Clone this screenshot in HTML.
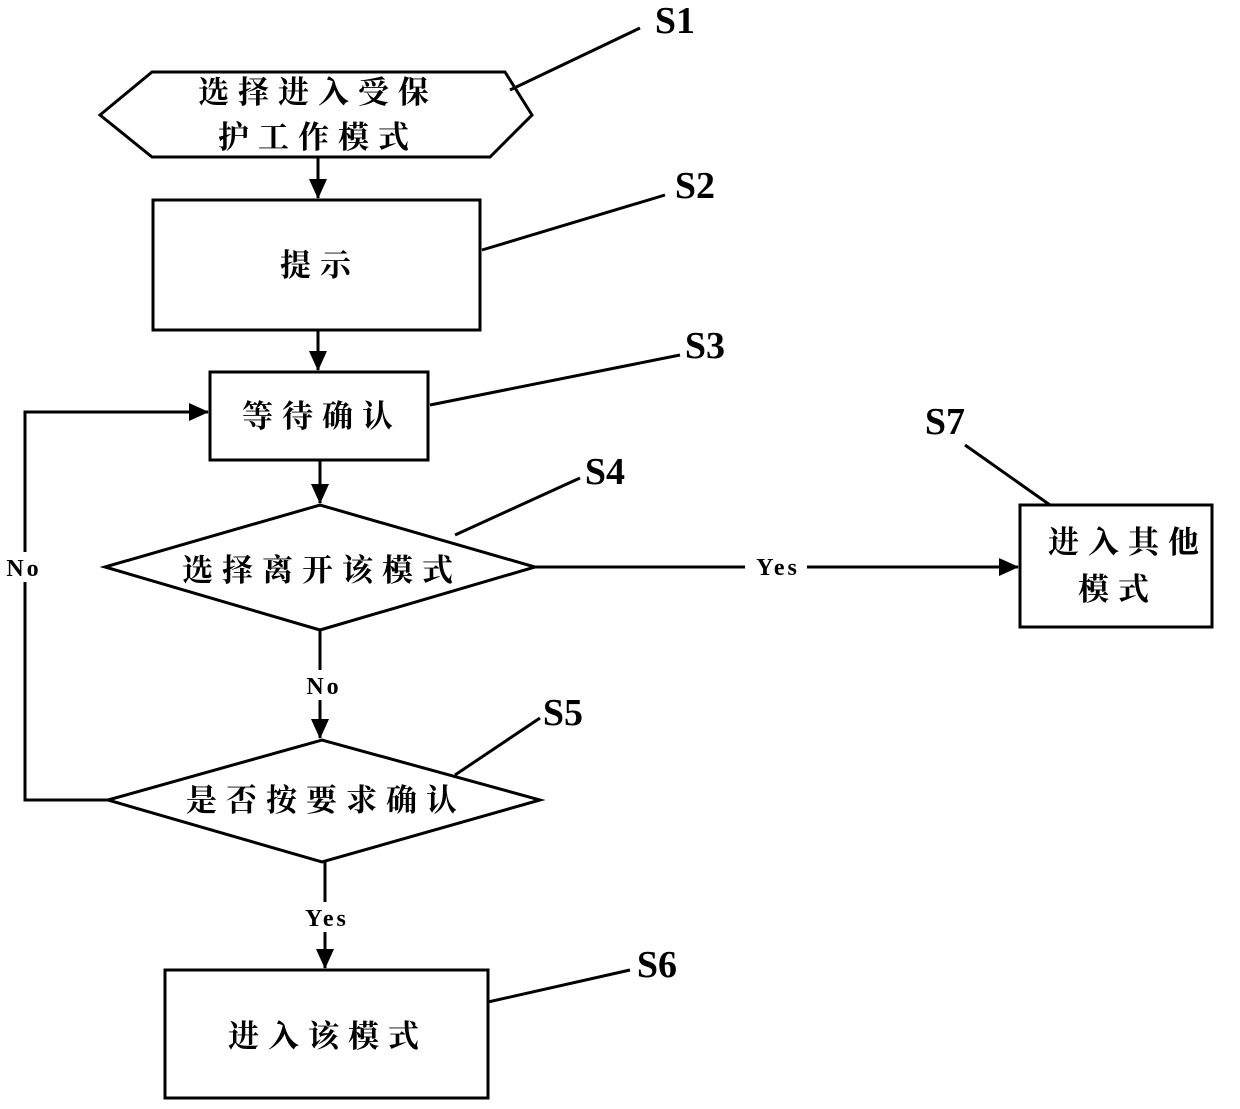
<!DOCTYPE html>
<html><head><meta charset="utf-8"><style>
html,body{margin:0;padding:0;background:#fff;}
svg text{font-family:"Liberation Serif","Noto Serif CJK SC","Noto Sans CJK SC",serif;font-weight:bold;fill:#000;}
.c{font-size:31px;letter-spacing:9px;}
.s{font-size:38px;font-family:"Liberation Serif",serif;}
.l{font-size:24px;letter-spacing:3px;}
</style></head><body>
<svg width="1240" height="1104" viewBox="0 0 1240 1104" xmlns="http://www.w3.org/2000/svg">
<defs><marker id="a" markerWidth="10" markerHeight="10" refX="9" refY="5" orient="auto" markerUnits="userSpaceOnUse"><path d="M0,0 L10,5 L0,10 z" fill="#000"/></marker>
<marker id="b" markerWidth="20" markerHeight="18" refX="19" refY="9" orient="auto" markerUnits="userSpaceOnUse"><path d="M0,0 L20,9 L0,18 z" fill="#000"/></marker></defs>
<g stroke="#000" stroke-width="3" fill="none">
<polygon points="100,115 152,72 505,72 532,115 490,157 152,157"/>
<rect x="153" y="200" width="327" height="130"/>
<rect x="210" y="372" width="218" height="88"/>
<polygon points="105,567 320,505 535,567 320,630"/>
<rect x="1020" y="505" width="192" height="122"/>
<polygon points="108,800 322,740 540,800 322,862"/>
<rect x="165" y="970" width="323" height="128"/>
<line x1="318" y1="157" x2="318" y2="198" marker-end="url(#b)"/>
<line x1="318" y1="330" x2="318" y2="370" marker-end="url(#b)"/>
<line x1="320" y1="460" x2="320" y2="503" marker-end="url(#b)"/>
<line x1="535" y1="567" x2="1018" y2="567" marker-end="url(#b)"/>
<line x1="320" y1="630" x2="320" y2="738" marker-end="url(#b)"/>
<line x1="325" y1="862" x2="325" y2="968" marker-end="url(#b)"/>
<polyline points="108,800 25,800 25,412 208,412" marker-end="url(#b)"/>
<line x1="510" y1="90" x2="640" y2="28"/>
<line x1="482" y1="250" x2="665" y2="195"/>
<line x1="430" y1="405" x2="680" y2="355"/>
<line x1="455" y1="535" x2="580" y2="478"/>
<line x1="455" y1="775" x2="540" y2="718"/>
<line x1="488" y1="1002" x2="630" y2="970"/>
<line x1="965" y1="445" x2="1050" y2="505"/>
</g>
<rect x="0" y="552" width="50" height="30" fill="#fff"/>
<rect x="298" y="670" width="50" height="30" fill="#fff"/>
<rect x="745" y="553" width="62" height="28" fill="#fff"/>
<rect x="295" y="902" width="60" height="30" fill="#fff"/>
<g text-anchor="middle">
<text class="c" x="318" y="103">选择进入受保</text>
<text class="c" x="318" y="148">护工作模式</text>
<text class="c" x="320" y="276">提示</text>
<text class="c" x="322" y="427">等待确认</text>
<text class="c" x="322" y="581">选择离开该模式</text>
<text class="c" x="1128" y="553">进入其他</text>
<text class="c" x="1118" y="600">模式</text>
<text class="c" x="326" y="811">是否按要求确认</text>
<text class="c" x="328" y="1047">进入该模式</text>
<text class="l" x="24" y="576">No</text>
<text class="l" x="324" y="694">No</text>
<text class="l" x="778" y="575">Yes</text>
<text class="l" x="327" y="926">Yes</text>
<text class="s" x="675" y="33">S1</text>
<text class="s" x="695" y="198">S2</text>
<text class="s" x="705" y="358">S3</text>
<text class="s" x="605" y="484">S4</text>
<text class="s" x="563" y="725">S5</text>
<text class="s" x="657" y="977">S6</text>
<text class="s" x="945" y="434">S7</text>
</g>
</svg>
</body></html>
